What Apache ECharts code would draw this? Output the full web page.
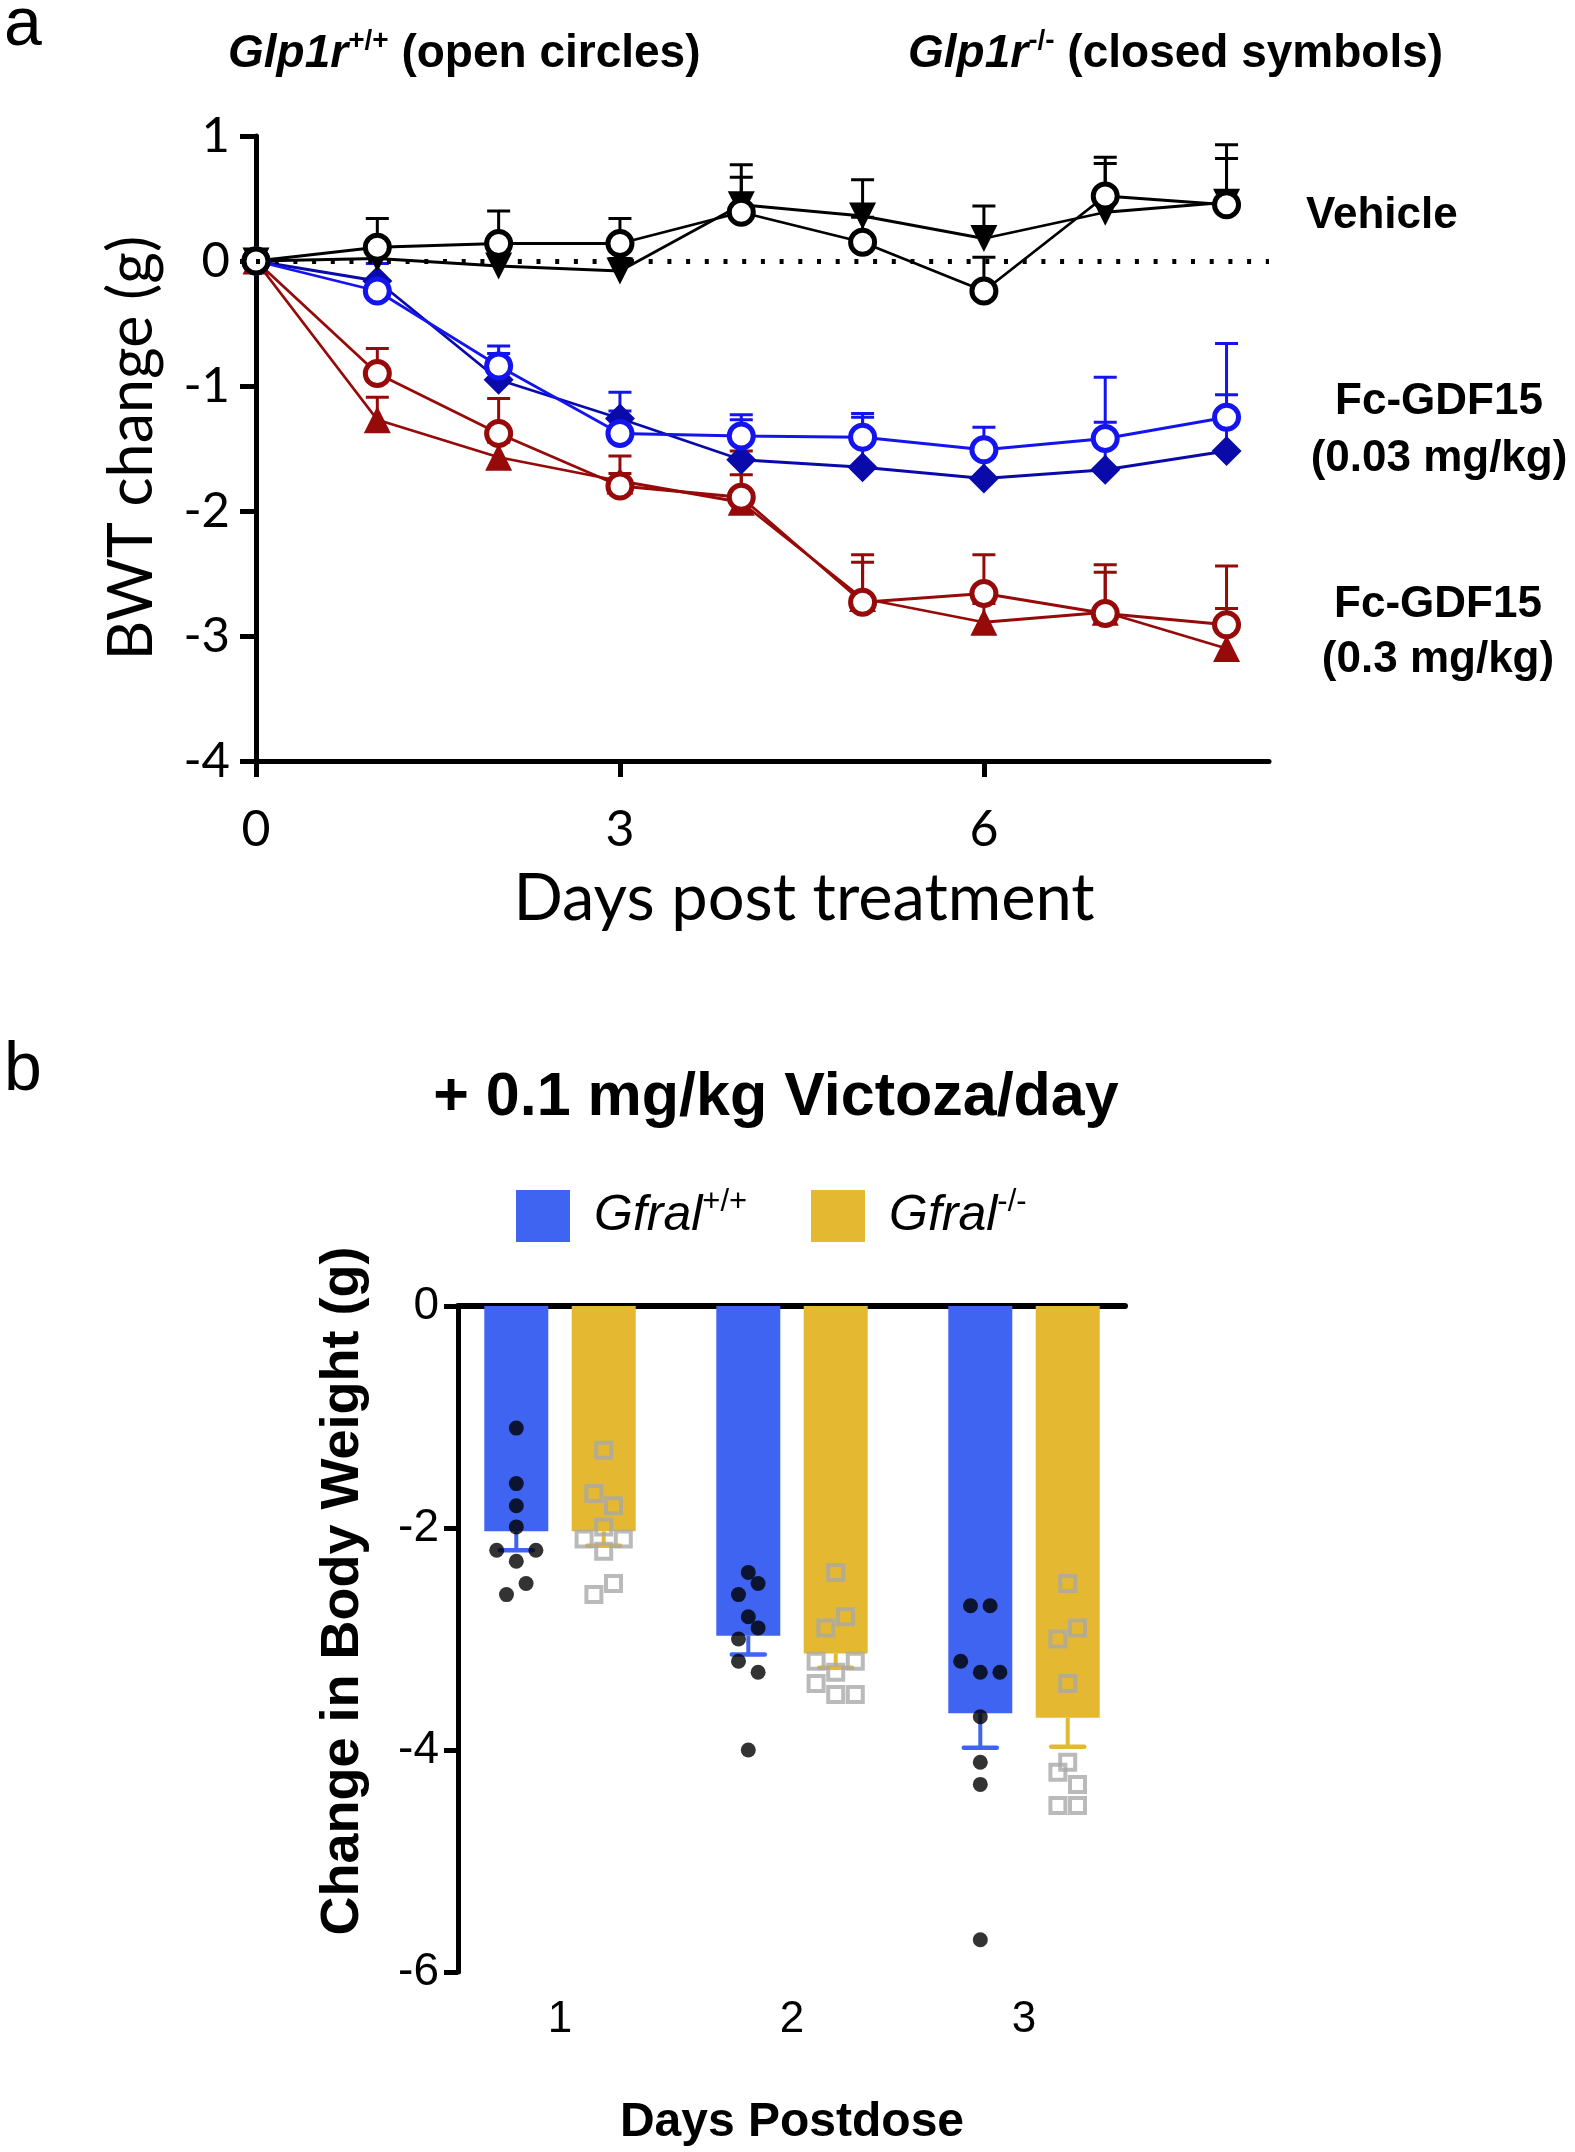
<!DOCTYPE html>
<html><head><meta charset="utf-8">
<script src="https://cdn.jsdelivr.net/npm/echarts@6/dist/echarts.min.js"></script>
<style>html,body{margin:0;padding:0;background:#fff}#c{width:1575px;height:2152px}</style>
</head><body><div id="c"></div>
<script>
// ---------- Panel a data (BWT change, g) ----------
const days = [0, 1, 2, 3, 4, 5, 6, 7, 8];
const xTicksA = [0, 3, 6];
const vehWT = [0, 0.11, 0.14, 0.14, 0.39, 0.15, -0.24, 0.52, 0.45];
const vehWTsem = [0, 0.23, 0.26, 0.20, 0.28, 0.20, 0.27, 0.26, 0.37];
const vehKO = [0, 0.02, -0.04, -0.08, 0.45, 0.36, 0.18, 0.39, 0.47];
const vehKOsem = [0, 0.08, 0.10, 0.10, 0.32, 0.29, 0.26, 0.44, 0.46];
const lowWT = [0, -0.24, -0.84, -1.38, -1.40, -1.41, -1.51, -1.42, -1.25];
const lowWTsem = [0, 0.08, 0.16, 0.33, 0.17, 0.19, 0.18, 0.13, 0.18];
const lowKO = [0, -0.16, -0.95, -1.26, -1.59, -1.65, -1.74, -1.67, -1.52];
const lowKOsem = [0, 0.14, 0.21, 0.06, 0.32, 0.40, 0.19, 0.74, 0.86];
const highWT = [0, -0.90, -1.38, -1.80, -1.89, -2.73, -2.66, -2.82, -2.91];
const highWTsem = [0, 0.20, 0.28, 0.24, 0.37, 0.38, 0.31, 0.39, 0.47];
const highKO = [0, -1.27, -1.57, -1.76, -1.93, -2.70, -2.89, -2.81, -3.10];
const highKOsem = [0, 0.18, 0.12, 0.06, 0.22, 0.29, 0.15, 0.32, 0.32];

// ---------- Panel b data (Change in body weight, g) ----------
const postDays = ['1', '2', '3'];
const wtMean = [-2.03, -2.97, -3.67];
const wtSem = [0.17, 0.17, 0.31];
const koMean = [-2.03, -3.13, -3.71];
const koSem = [0.13, 0.13, 0.26];
const wtPoints = [
  [-1.10, -1.60, -1.80, -1.99, -2.20, -2.20, -2.30, -2.50, -2.60],
  [-2.40, -2.50, -2.60, -2.80, -2.90, -3.00, -3.20, -3.30, -4.00],
  [-2.70, -2.70, -3.20, -3.30, -3.30, -3.70, -4.11, -4.31, -5.71]
];
const wtSlot = [
  [0, 0, 0, 0, -2, 2, 0, 1, -1],
  [0, 1, -1, 0, 1, -1, -1, 1, 0],
  [-1, 1, -2, 0, 2, 0, 0, 0, 0]
];
const koPoints = [
  [-1.30, -1.69, -1.80, -1.99, -2.10, -2.10, -2.21, -2.50, -2.60],
  [-2.40, -2.80, -2.90, -3.20, -3.20, -3.30, -3.40, -3.50, -3.50],
  [-2.50, -2.90, -3.00, -3.40, -4.11, -4.20, -4.31, -4.50, -4.50]
];
const koSlot = [
  [0, -1, 1, 0, -2, 2, 0, 1, -1],
  [0, 1, -1, -2, 2, 0, -2, 0, 2],
  [0, 1, -1, 0, 0, -1, 1, -1, 1]
];

// ---------- styling ----------
const FH = '"Liberation Sans", Arial, Helvetica, sans-serif';
const FA = 'Lato, "Open Sans", sans-serif';
const BLACK = '#000000';
const BLUE = '#1414EE';
const NAVY = '#0A0AAA';
const RED = '#960A0A';
const BARBLUE = '#4064F2';
const BARYEL = '#E4B830';
const GREY = '#A9A9A9';

const BAR_W = 64, BAR_GAP = 23.4, SLOT = 9.8;
const BAR_OFF = (BAR_W + BAR_GAP) / 2;

const chart = echarts.init(document.getElementById('c'), null, {renderer: 'canvas'});

function pts(vals) { return days.map((d, i) => [d, vals[i]]); }

function errA(vals, sems, color) {
  const data = [];
  days.forEach((d, i) => { if (sems[i] > 0) data.push([d, vals[i], vals[i] + sems[i]]); });
  return {
    type: 'custom', xAxisIndex: 0, yAxisIndex: 0, z: 1, silent: true, animation: false,
    encode: {x: 0, y: [1, 2]}, data,
    renderItem(params, api) {
      const p0 = api.coord([api.value(0), api.value(1)]);
      const p1 = api.coord([api.value(0), api.value(2)]);
      const hw = 11.5;
      return {type: 'group', children: [
        {type: 'line', shape: {x1: p0[0], y1: p0[1], x2: p1[0], y2: p1[1]}, style: {stroke: color, lineWidth: 3}},
        {type: 'line', shape: {x1: p1[0] - hw, y1: p1[1], x2: p1[0] + hw, y2: p1[1]}, style: {stroke: color, lineWidth: 3}}
      ]};
    }
  };
}

function lineA(name, vals, opt) {
  return Object.assign({
    name, type: 'line', xAxisIndex: 0, yAxisIndex: 0, data: pts(vals), z: 2,
    animation: false, silent: true,
    lineStyle: {width: 2.8, color: opt.lineColor},
    itemStyle: opt.item, symbol: opt.symbol, symbolSize: opt.size,
    symbolRotate: opt.rotate || 0, showAllSymbol: true
  }, opt.extra || {});
}

function openCircle(color) { return {color: '#ffffff', borderColor: color, borderWidth: 5, opacity: 1}; }
function filled(color) { return {color: color, borderWidth: 0, opacity: 1}; }

function errB(means, sems, side, color) {
  return {
    type: 'custom', xAxisIndex: 1, yAxisIndex: 1, z: 4, silent: true, animation: false,
    encode: {x: 0, y: [1, 2]},
    data: means.map((m, i) => [i, m, m - sems[i]]),
    renderItem(params, api) {
      const p0 = api.coord([api.value(0), api.value(1)]);
      const p1 = api.coord([api.value(0), api.value(2)]);
      const x = p0[0] + side * BAR_OFF;
      const hw = 16.5;
      return {type: 'group', children: [
        {type: 'line', shape: {x1: x, y1: p0[1], x2: x, y2: p1[1]}, style: {stroke: color, lineWidth: 4}},
        {type: 'line', shape: {x1: x - hw, y1: p1[1], x2: x + hw, y2: p1[1]}, style: {stroke: color, lineWidth: 4.5, lineCap: 'round'}}
      ]};
    }
  };
}

function scatterB(name, points, slots, side, style, symbol, size) {
  const data = [];
  points.forEach((arr, c) => arr.forEach((v, k) => {
    data.push({value: [c, v], symbolOffset: [side * BAR_OFF + slots[c][k] * SLOT, 0]});
  }));
  return {name, type: 'scatter', xAxisIndex: 1, yAxisIndex: 1, z: 5, silent: true, animation: false,
    symbol, symbolSize: size, itemStyle: style, data};
}

const supRich = {
  gi: {fontFamily: FH, fontWeight: 'bold', fontStyle: 'italic', fontSize: 46, lineHeight: 54, color: '#000'},
  sup: {fontFamily: FH, fontWeight: 'bold', fontSize: 28, lineHeight: 34, verticalAlign: 'top', color: '#000'},
  n: {fontFamily: FH, fontWeight: 'bold', fontSize: 46, lineHeight: 54, color: '#000'}
};

const legRich = {
  i: {fontFamily: FH, fontStyle: 'italic', fontSize: 50, lineHeight: 58, color: '#000', padding: [0, 0, 0, 19]},
  s: {fontFamily: FH, fontSize: 31, lineHeight: 38, verticalAlign: 'top', color: '#000'}
};

function txt(x, y, text, font, align, extra) {
  return Object.assign({type: 'text', x, y, silent: true,
    style: {text, font, fill: '#000', align: align || 'left', verticalAlign: 'middle'}}, extra || {});
}

const option = {
  backgroundColor: '#ffffff',
  animation: false,
  grid: [
    {left: 256, top: 136, width: 1013, height: 625},
    {left: 444, top: 1306, width: 696, height: 666},
    {left: 458, top: 1306, width: 667, height: 666}
  ],
  xAxis: [
    {gridIndex: 0, type: 'value', min: 0, max: 8.35,
      axisLine: {onZero: false, lineStyle: {color: BLACK, width: 5}},
      axisTick: {customValues: xTicksA, length: 16, lineStyle: {color: BLACK, width: 5}},
      axisLabel: {customValues: xTicksA, fontFamily: FA, fontSize: 50, color: BLACK, margin: 44},
      splitLine: {show: false}},
    {gridIndex: 1, type: 'category', data: postDays, position: 'bottom',
      axisLine: {show: false}, axisTick: {show: false},
      axisLabel: {fontFamily: FH, fontSize: 44, color: BLACK, margin: 26},
      splitLine: {show: false}},
    {gridIndex: 2, type: 'value', position: 'top', min: 0, max: 1,
      axisLine: {onZero: false, lineStyle: {color: BLACK, width: 6}},
      axisTick: {show: false}, axisLabel: {show: false}, splitLine: {show: false}}
  ],
  yAxis: [
    {gridIndex: 0, type: 'value', min: -4, max: 1, interval: 1,
      axisLine: {show: true, onZero: false, lineStyle: {color: BLACK, width: 5}},
      axisTick: {show: true, length: 16, lineStyle: {color: BLACK, width: 5}},
      axisLabel: {fontFamily: FA, fontSize: 49, color: BLACK, margin: 26},
      splitLine: {show: false}},
    {gridIndex: 1, type: 'value', min: -6, max: 0, show: false, splitLine: {show: false}},
    {gridIndex: 2, type: 'value', min: -6, max: 0, interval: 2,
      axisLine: {show: true, onZero: false, lineStyle: {color: BLACK, width: 5}},
      axisTick: {show: true, length: 14, lineStyle: {color: BLACK, width: 5}},
      axisLabel: {fontFamily: FH, fontSize: 46, color: BLACK, margin: 19},
      splitLine: {show: false}}
  ],
  legend: [
    {left: 516, top: 1187, padding: 0, itemWidth: 54, itemHeight: 52, selectedMode: false,
      data: [{name: 'Gfral+/+', icon: 'rect'}],
      formatter: () => '{i|Gfral}{s|+/+}', textStyle: {rich: legRich}},
    {left: 811, top: 1187, padding: 0, itemWidth: 54, itemHeight: 52, selectedMode: false,
      data: [{name: 'Gfral-/-', icon: 'rect'}],
      formatter: () => '{i|Gfral}{s|-/-}', textStyle: {rich: legRich}}
  ],
  series: [
    errA(highKO, highKOsem, RED),
    errA(highWT, highWTsem, RED),
    errA(lowKO, lowKOsem, BLUE),
    errA(lowWT, lowWTsem, BLUE),
    errA(vehKO, vehKOsem, BLACK),
    errA(vehWT, vehWTsem, BLACK),
    lineA('Fc-GDF15 0.3 KO', highKO, {lineColor: RED, item: filled(RED), symbol: 'triangle', size: 27}),
    lineA('Fc-GDF15 0.3 WT', highWT, {lineColor: RED, item: openCircle(RED), symbol: 'circle', size: 24}),
    lineA('Fc-GDF15 0.03 KO', lowKO, {lineColor: NAVY, item: filled(NAVY), symbol: 'diamond', size: 30}),
    lineA('Fc-GDF15 0.03 WT', lowWT, {lineColor: BLUE, item: openCircle(BLUE), symbol: 'circle', size: 24}),
    lineA('Vehicle KO', vehKO, {lineColor: BLACK, item: filled(BLACK), symbol: 'triangle', size: 27, rotate: 180,
      extra: {markLine: {silent: true, symbol: ['none', 'none'], label: {show: false}, animation: false,
        lineStyle: {type: [4, 14.7], width: 5, color: BLACK}, data: [{yAxis: 0}]}}}),
    lineA('Vehicle WT', vehWT, {lineColor: BLACK, item: openCircle(BLACK), symbol: 'circle', size: 24}),

    {name: 'Gfral+/+', type: 'bar', xAxisIndex: 1, yAxisIndex: 1, data: wtMean, barWidth: BAR_W,
      barGap: (BAR_GAP / BAR_W * 100).toFixed(1) + '%', itemStyle: {color: BARBLUE}, z: 3, silent: true},
    {name: 'Gfral-/-', type: 'bar', xAxisIndex: 1, yAxisIndex: 1, data: koMean, barWidth: BAR_W,
      barGap: (BAR_GAP / BAR_W * 100).toFixed(1) + '%', itemStyle: {color: BARYEL}, z: 3, silent: true},
    errB(wtMean, wtSem, -1, BARBLUE),
    errB(koMean, koSem, 1, BARYEL),
    scatterB('WT points', wtPoints, wtSlot, -1, {color: BLACK}, 'circle', 15),
    scatterB('KO points', koPoints, koSlot, 1, {color: 'rgba(0,0,0,0)', borderColor: GREY, borderWidth: 4}, 'rect', 15)
  ],
  graphic: [
    txt(4, 26, 'a', '300 68px ' + FH),
    txt(4, 1071, 'b', '300 68px ' + FH),
    {type: 'text', x: 228, y: 54, silent: true,
      style: {text: '{gi|Glp1r}{sup|+/+}{n| (open circles)}', rich: supRich, align: 'left', verticalAlign: 'middle'}},
    {type: 'text', x: 908, y: 54, silent: true,
      style: {text: '{gi|Glp1r}{sup|-/-}{n| (closed symbols)}', rich: supRich, align: 'left', verticalAlign: 'middle'}},
    txt(1306, 216, 'Vehicle', 'bold 44px ' + FH),
    txt(1439, 402, 'Fc-GDF15', 'bold 44px ' + FH, 'center'),
    txt(1439, 459, '(0.03 mg/kg)', 'bold 44px ' + FH, 'center'),
    txt(1438, 605, 'Fc-GDF15', 'bold 44px ' + FH, 'center'),
    txt(1438, 660, '(0.3 mg/kg)', 'bold 44px ' + FH, 'center'),
    txt(804, 899, 'Days post treatment', '65px ' + FA, 'center'),
    txt(132, 448, 'BWT change (g)', '61px ' + FA, 'center', {rotation: Math.PI / 2}),
    txt(776, 1098, '+ 0.1 mg/kg Victoza/day', 'bold 61px ' + FH, 'center'),
    txt(343, 1591, 'Change in Body Weight (g)', 'bold 54px ' + FH, 'center', {rotation: Math.PI / 2}),
    txt(792, 2123, 'Days Postdose', 'bold 48px ' + FH, 'center')
  ]
};
chart.setOption(option);
</script></body></html>
